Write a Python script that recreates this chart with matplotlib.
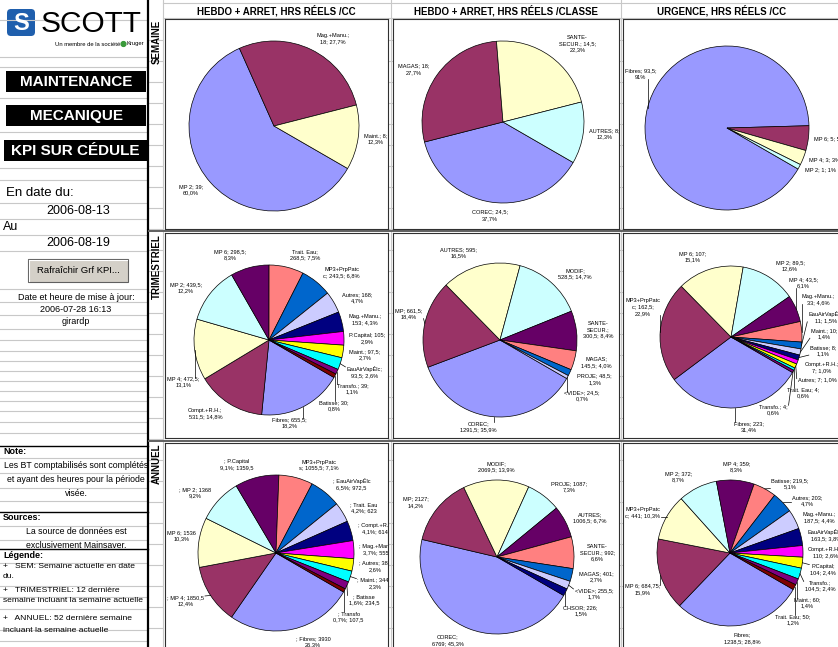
import numpy as np
import matplotlib
matplotlib.use("Agg")
import matplotlib.pyplot as plt
from matplotlib.patches import Rectangle, FancyBboxPatch, Circle

plt.rcParams["font.family"] = ["Liberation Sans", "DejaVu Sans"]

# Excel default pie palette
COLORS = ["#9999FF", "#993366", "#FFFFCC", "#CCFFFF", "#660066", "#FF8080", "#0066CC",
          "#CCCCFF", "#000080", "#FF00FF", "#FFFF00", "#00FFFF", "#800080", "#800000"]

# ---- data: SEMAINE ----
sem_cc_values = [39, 18, 8]
sem_cc_labels = ["MP 2; 39;\n60,0%", "Mag.+Manu.;\n18; 27,7%", "Maint.; 8;\n12,3%"]

sem_cl_values = [24.5, 18, 14.5, 8]
sem_cl_labels = ["COREC; 24,5;\n37,7%", "MAGAS; 18;\n27,7%", "SANTE-\nSECUR.; 14,5;\n22,3%",
                 "AUTRES; 8;\n12,3%"]

sem_urg_values = [93.5, 5, 3, 1]
sem_urg_labels = ["Fibres; 93,5;\n91%", "MP 6; 5; 5%", "MP 4; 3; 3%", "MP 2; 1; 1%"]

# ---- data: TRIMESTRIEL ----
tri_cc_values = [655.5, 531.5, 472.5, 439.5, 298.5, 268.5, 243.5, 168, 153, 105, 97.5, 93.5, 39, 30]
tri_cc_labels = ["Fibres; 655,5;\n18,2%", "Compt.+R.H.;\n531,5; 14,8%", "MP 4; 472,5;\n13,1%",
                 "MP 2; 439,5;\n12,2%", "MP 6; 298,5;\n8,3%", "Trait. Eau;\n268,5; 7,5%",
                 "MP3+PrpPatc\nc; 243,5; 6,8%", "Autres; 168;\n4,7%", "Mag.+Manu.;\n153; 4,3%",
                 "P.Capital; 105;\n2,9%", "Maint.; 97,5;\n2,7%", "EauAirVapÉlc;\n93,5; 2,6%",
                 "Transfo.; 39;\n1,1%", "Batisse; 30;\n0,8%"]

tri_cl_values = [1291.5, 661.5, 595, 528.5, 300.5, 145.5, 48.5, 24.5]
tri_cl_labels = ["COREC;\n1291,5; 35,9%", "MP; 661,5;\n18,4%", "AUTRES; 595;\n16,5%",
                 "MODIF;\n528,5; 14,7%", "SANTE-\nSECUR.;\n300,5; 8,4%", "MAGAS;\n145,5; 4,0%",
                 "PROJE; 48,5;\n1,3%", "<VIDE>; 24,5;\n0,7%"]

tri_urg_values = [223, 162.5, 107, 89.5, 43.5, 33, 11, 10, 8, 7, 7, 4, 4]
tri_urg_labels = ["Fibres; 223;\n31,4%", "MP3+PrpPatc\nc; 162,5;\n22,9%", "MP 6; 107;\n15,1%",
                  "MP 2; 89,5;\n12,6%", "MP 4; 43,5;\n6,1%", "Mag.+Manu.;\n33; 4,6%",
                  "EauAirVapÉlc;\n11; 1,5%", "Maint.; 10;\n1,4%", "Batisse; 8;\n1,1%",
                  "Compt.+R.H.;\n7; 1,0%", "Autres; 7; 1,0%", "Trait. Eau; 4;\n0,6%",
                  "Transfo.; 4;\n0,6%"]

# ---- data: ANNUEL ----
ann_cc_values = [3930, 1850.5, 1536, 1368, 1359.5, 1055.5, 972.5, 623, 614, 555, 383, 344.5, 234.5, 107.5]
ann_cc_labels = ["; Fibres; 3930\n26,3%", "; MP 4; 1850,5\n12,4%", "MP 6; 1536\n10,3%",
                 "; MP 2; 1368\n9,2%", "; P.Capital\n9,1%; 1359,5", "MP3+PrpPatc\ns; 1055,5; 7,1%",
                 "; EauAirVapÉlc\n6,5%; 972,5", "; Trait. Eau\n4,2%; 623", "; Compt.+R.H\n4,1%; 614",
                 "; Mag.+Manu\n3,7%; 555", "; Autres; 383\n2,6%", "; Maint.; 344,5\n2,3%",
                 "; Batisse\n1,6%; 234,5", "; Transfo\n0,7%; 107,5"]

ann_cl_values = [6769, 2127, 2069.5, 1087, 1006.5, 992, 401, 255.5, 226]
ann_cl_labels = ["COREC;\n6769; 45,3%", "MP; 2127;\n14,2%", "MODIF;\n2069,5; 13,9%",
                 "PROJE; 1087;\n7,3%", "AUTRES;\n1006,5; 6,7%", "SANTE-\nSECUR.; 992;\n6,6%",
                 "MAGAS; 401;\n2,7%", "<VIDE>; 255,5;\n1,7%", "CHSOR; 226;\n1,5%"]

ann_urg_values = [1238.5, 684.75, 441, 372, 359, 219.5, 203, 187.5, 163.5, 110, 104, 104.5, 60, 50]
ann_urg_labels = ["Fibres;\n1238,5; 28,8%", "MP 6; 684,75;\n15,9%", "MP3+PrpPatc\nc; 441; 10,3%",
                  "MP 2; 372;\n8,7%", "MP 4; 359;\n8,3%", "Batisse; 219,5;\n5,1%",
                  "Autres; 203;\n4,7%", "Mag.+Manu.;\n187,5; 4,4%", "EauAirVapÉlc;\n163,5; 3,8%",
                  "Compt.+R.H.;\n110; 2,6%", "P.Capital;\n104; 2,4%", "Transfo.;\n104,5; 2,4%",
                  "Maint.; 60;\n1,4%", "Trait. Eau; 50;\n1,2%"]

col_titles = ["HEBDO + ARRET, HRS RÉELS /CC", "HEBDO + ARRET, HRS RÉELS /CLASSE",
              "URGENCE, HRS RÉELS /CC"]
row_titles = ["SEMAINE", "TRIMESTRIEL", "ANNUEL"]

# ---- layout (pixels) ----
W, H = 838, 647
col_x = [(165, 388), (393, 619), (623, 850)]
row_y = [(19, 229), (233, 438), (443, 655)]
pie_geom = [[(274, 126, 85), (503, 122, 81), (727, 128, 82)],
            [(269, 340, 75), (500, 340, 77), (731, 337, 71)],
            [(276, 553, 78), (497, 557, 77), (730, 553, 73)]]
chart_data = [[(sem_cc_values, sem_cc_labels), (sem_cl_values, sem_cl_labels), (sem_urg_values, sem_urg_labels)],
              [(tri_cc_values, tri_cc_labels), (tri_cl_values, tri_cl_labels), (tri_urg_values, tri_urg_labels)],
              [(ann_cc_values, ann_cc_labels), (ann_cl_values, ann_cl_labels), (ann_urg_values, ann_urg_labels)]]

LABEL_FS = 4.1
LINE_H = 8.2
START = -30  # Excel first slice angle 120 deg


def rect_dist(px, py, x0, y0, x1, y1):
    qx = min(max(px, x0), x1)
    qy = min(max(py, y0), y1)
    return np.hypot(px - qx, py - qy), qx, qy


def draw_pie(ax, values, labels, cx, cy, r, bw, bh, renderer):
    values = np.asarray(values, float)
    ax.pie(values, colors=COLORS[:len(values)], startangle=START, counterclock=False,
           center=(cx, cy), radius=r, frame=True,
           wedgeprops=dict(edgecolor="black", linewidth=0.5))
    ax.set_xlim(0, bw)
    ax.set_ylim(0, bh)
    ax.set_xticks([])
    ax.set_yticks([])
    total = values.sum()
    cum = np.concatenate([[0], np.cumsum(values)[:-1]])
    mids = np.radians(START - (cum + values / 2) / total * 360)
    items = []
    for m, lab in zip(mids, labels):
        ux, uy = np.cos(m), np.sin(m)
        hgt = (lab.count("\n") + 1) * LINE_H
        d = r + 5 + abs(uy) * hgt / 2
        items.append(dict(ux=ux, uy=uy, x=cx + d * ux, y=cy + d * uy, y0=cy + d * uy,
                          hgt=hgt, lab=lab, side=1 if ux >= 0 else -1, moved=False,
                          ha="left" if ux > 0.2 else ("right" if ux < -0.2 else "center")))
    # spread labels vertically on each side so they do not overlap
    for side in (1, -1):
        grp = sorted([it for it in items if it["side"] == side], key=lambda it: -it["y"])
        for a, b in zip(grp, grp[1:]):
            need = (a["hgt"] + b["hgt"]) / 2 + 0.5
            if a["y"] - b["y"] < need:
                b["y"] = a["y"] - need
        if grp and grp[-1]["y"] - grp[-1]["hgt"] / 2 < 3:
            grp[-1]["y"] = 3 + grp[-1]["hgt"] / 2
            for a, b in zip(grp[::-1], grp[::-1][1:]):
                need = (a["hgt"] + b["hgt"]) / 2 + 0.5
                if b["y"] - a["y"] < need:
                    b["y"] = a["y"] + need
    inv = ax.transData.inverted()
    for it in items:
        if abs(it["y"] - it["y0"]) > 3:
            dy = it["y"] - cy
            rr = r + 6
            it["x"] = cx + it["side"] * (np.sqrt(max(rr ** 2 - dy ** 2, 0)) + 3)
            it["ha"] = "left" if it["side"] > 0 else "right"
            it["moved"] = True
        t = ax.text(it["x"], it["y"], it["lab"], ha=it["ha"], va="center",
                    multialignment="center", fontsize=LABEL_FS, linespacing=1.3,
                    clip_on=True)
        bb = t.get_window_extent(renderer)
        (x0, y0), (x1, y1) = inv.transform([[bb.x0, bb.y0], [bb.x1, bb.y1]])
        # labels running past the left edge are pulled inside, above/below the pie
        if x0 < 2:
            shift = 2 - x0
            it["moved"] = True
            x0 += shift
            x1 += shift
            it["x"] += shift
            step = 1 if it["y"] >= cy else -1
            for _ in range(200):
                dist, _, _ = rect_dist(cx, cy, x0, y0, x1, y1)
                if dist > r + 3:
                    break
                y0 += step
                y1 += step
                it["y"] += step
            t.set_position((it["x"], it["y"]))
        if it["moved"]:
            ex, ey = cx + r * it["ux"], cy + r * it["uy"]
            _, qx, qy = rect_dist(ex, ey, x0 - 1, y0 + 1, x1 + 1, y1 - 1)
            if np.hypot(qx - ex, qy - ey) > 4:
                ax.plot([ex, qx], [ey, qy], color="black", lw=0.5, clip_on=True)
    for s in ax.spines.values():
        s.set_color("#303030")
        s.set_linewidth(0.8)


fig = plt.figure(figsize=(W / 100, H / 100), dpi=100)
renderer = fig.canvas.get_renderer()
bg = fig.add_axes([0, 0, 1, 1])
bg.set_xlim(0, W)
bg.set_ylim(H, 0)
bg.axis("off")

grid = "#C8C8C8"
# spreadsheet grid lines
left_rows = [20, 57, 67, 98, 132, 168, 180, 203, 219, 235, 251, 289, 302, 315, 329, 340, 351, 361,
             371, 381, 391, 401, 411, 422, 433, 458, 473, 488, 501, 526, 540, 563, 586, 597, 609,
             630, 641]
for y in left_rows:
    bg.plot([0, 147], [y, y], color=grid, lw=0.8)
for y in np.arange(40, H, 21):
    bg.plot([149, 163], [y, y], color=grid, lw=0.8)
    bg.plot([388, 393], [y, y], color=grid, lw=0.8)
    bg.plot([619, 623], [y, y], color=grid, lw=0.8)
bg.plot([163, 163], [0, H], color=grid, lw=0.8)
bg.plot([390.5, 390.5], [0, H], color=grid, lw=0.8)
bg.plot([621, 621], [0, H], color=grid, lw=0.8)
bg.plot([163, W], [3, 3], color=grid, lw=0.8)
bg.plot([163, W], [18, 18], color=grid, lw=0.8)
bg.plot([148, 148], [0, H], color="black", lw=1.6)
for y in (231, 440.5):
    bg.plot([149, W], [y, y], color="#606060", lw=1.4)
for y in (446, 512, 549):
    bg.plot([0, 148], [y, y], color="black", lw=1.0)

# logo
bg.add_patch(FancyBboxPatch((7, 9), 28, 27, boxstyle="round,pad=0,rounding_size=4",
                            fc="#1F5FAD", ec="none"))
bg.text(21, 23, "S", color="white", fontsize=17, fontweight="bold", ha="center", va="center")
bg.text(41, 24, "SCOTT", fontsize=21.5, ha="left", va="center")
bg.text(120, 44, "Un membre de la société", fontsize=4.2, ha="right", va="center")
bg.add_patch(Circle((123.5, 44), 2.4, color="#3A9A3A"))
bg.text(126.5, 44, "Kruger", fontsize=4.2, ha="left", va="center")

for txt, (x0, y0, w) in zip(["MAINTENANCE", "MECANIQUE", "KPI SUR CÉDULE"],
                           [(6, 71, 140), (6, 105, 140), (4, 140, 143)]):
    bg.add_patch(Rectangle((x0, y0), w, 21, fc="black", ec="none"))
    bg.text(x0 + w / 2, y0 + 11, txt, color="white", fontsize=11, fontweight="bold",
            ha="center", va="center")

bg.text(6, 193, "En date du:", fontsize=9.5, ha="left", va="center")
bg.text(78, 211, "2006-08-13", fontsize=9, ha="center", va="center")
bg.text(3, 227, "Au", fontsize=9, ha="left", va="center")
bg.text(78, 243, "2006-08-19", fontsize=9, ha="center", va="center")
bg.add_patch(Rectangle((28, 259), 100, 23, fc="#D4D0C8", ec="#606060", lw=0.8))
bg.plot([29, 127], [260, 260], color="white", lw=0.8)
bg.plot([29, 29], [260, 281], color="white", lw=0.8)
bg.text(78, 270.5, "Rafraîchir Grf KPI...", fontsize=6.8, ha="center", va="center")
bg.text(76, 297, "Date et heure de mise à jour:", fontsize=6.5, ha="center", va="center")
bg.text(76, 309, "2006-07-28 16:13", fontsize=6.5, ha="center", va="center")
bg.text(76, 321, "girardp", fontsize=6.5, ha="center", va="center")

bg.text(3, 452, "Note:", fontsize=6.5, fontweight="bold", ha="left", va="center")
for y, t in zip((466, 480, 494), ("Les BT comptabilisés sont complétés",
                                   "et ayant des heures pour la période", "visée.")):
    bg.text(76, y, t, fontsize=6.3, ha="center", va="center")
bg.text(3, 518, "Sources:", fontsize=6.5, fontweight="bold", ha="left", va="center")
bg.text(76, 531, "La source de données est", fontsize=6.3, ha="center", va="center")
bg.text(76, 545, "exclusivement Mainsaver.", fontsize=6.3, ha="center", va="center")
bg.text(3, 555, "Légende:", fontsize=6.5, fontweight="bold", ha="left", va="center")
for y, t in zip((566, 577, 590, 601, 619, 631),
                ("+   SEM: Semaine actuelle en date", "du.", "+   TRIMESTRIEL: 12 dernière",
                 "semaine incluant la semaine actuelle", "+   ANNUEL: 52 dernière semaine",
                 "incluant la semaine actuelle")):
    bg.text(3, y, t, fontsize=6.1, ha="left", va="center")

# column / row titles
for (x0, x1), t in zip([(165, 388), (393, 619), (623, 820)], col_titles):
    bg.text((x0 + x1) / 2, 11, t, fontsize=7, fontweight="bold", ha="center", va="center")
for (y0, y1), t in zip(row_y, row_titles):
    bg.text(156.5, y0 + 1, t, fontsize=7, fontweight="bold", rotation=90, ha="center", va="top")

# charts
for ri, (y0, y1) in enumerate(row_y):
    for ci, (x0, x1) in enumerate(col_x):
        bw, bh = x1 - x0, y1 - y0
        ax = fig.add_axes([x0 / W, 1 - y1 / H, bw / W, bh / H])
        cx, cy, r = pie_geom[ri][ci]
        vals, labs = chart_data[ri][ci]
        draw_pie(ax, vals, labs, cx - x0, y1 - cy, r, bw, bh, renderer)

fig.savefig("out.png", dpi=100)
